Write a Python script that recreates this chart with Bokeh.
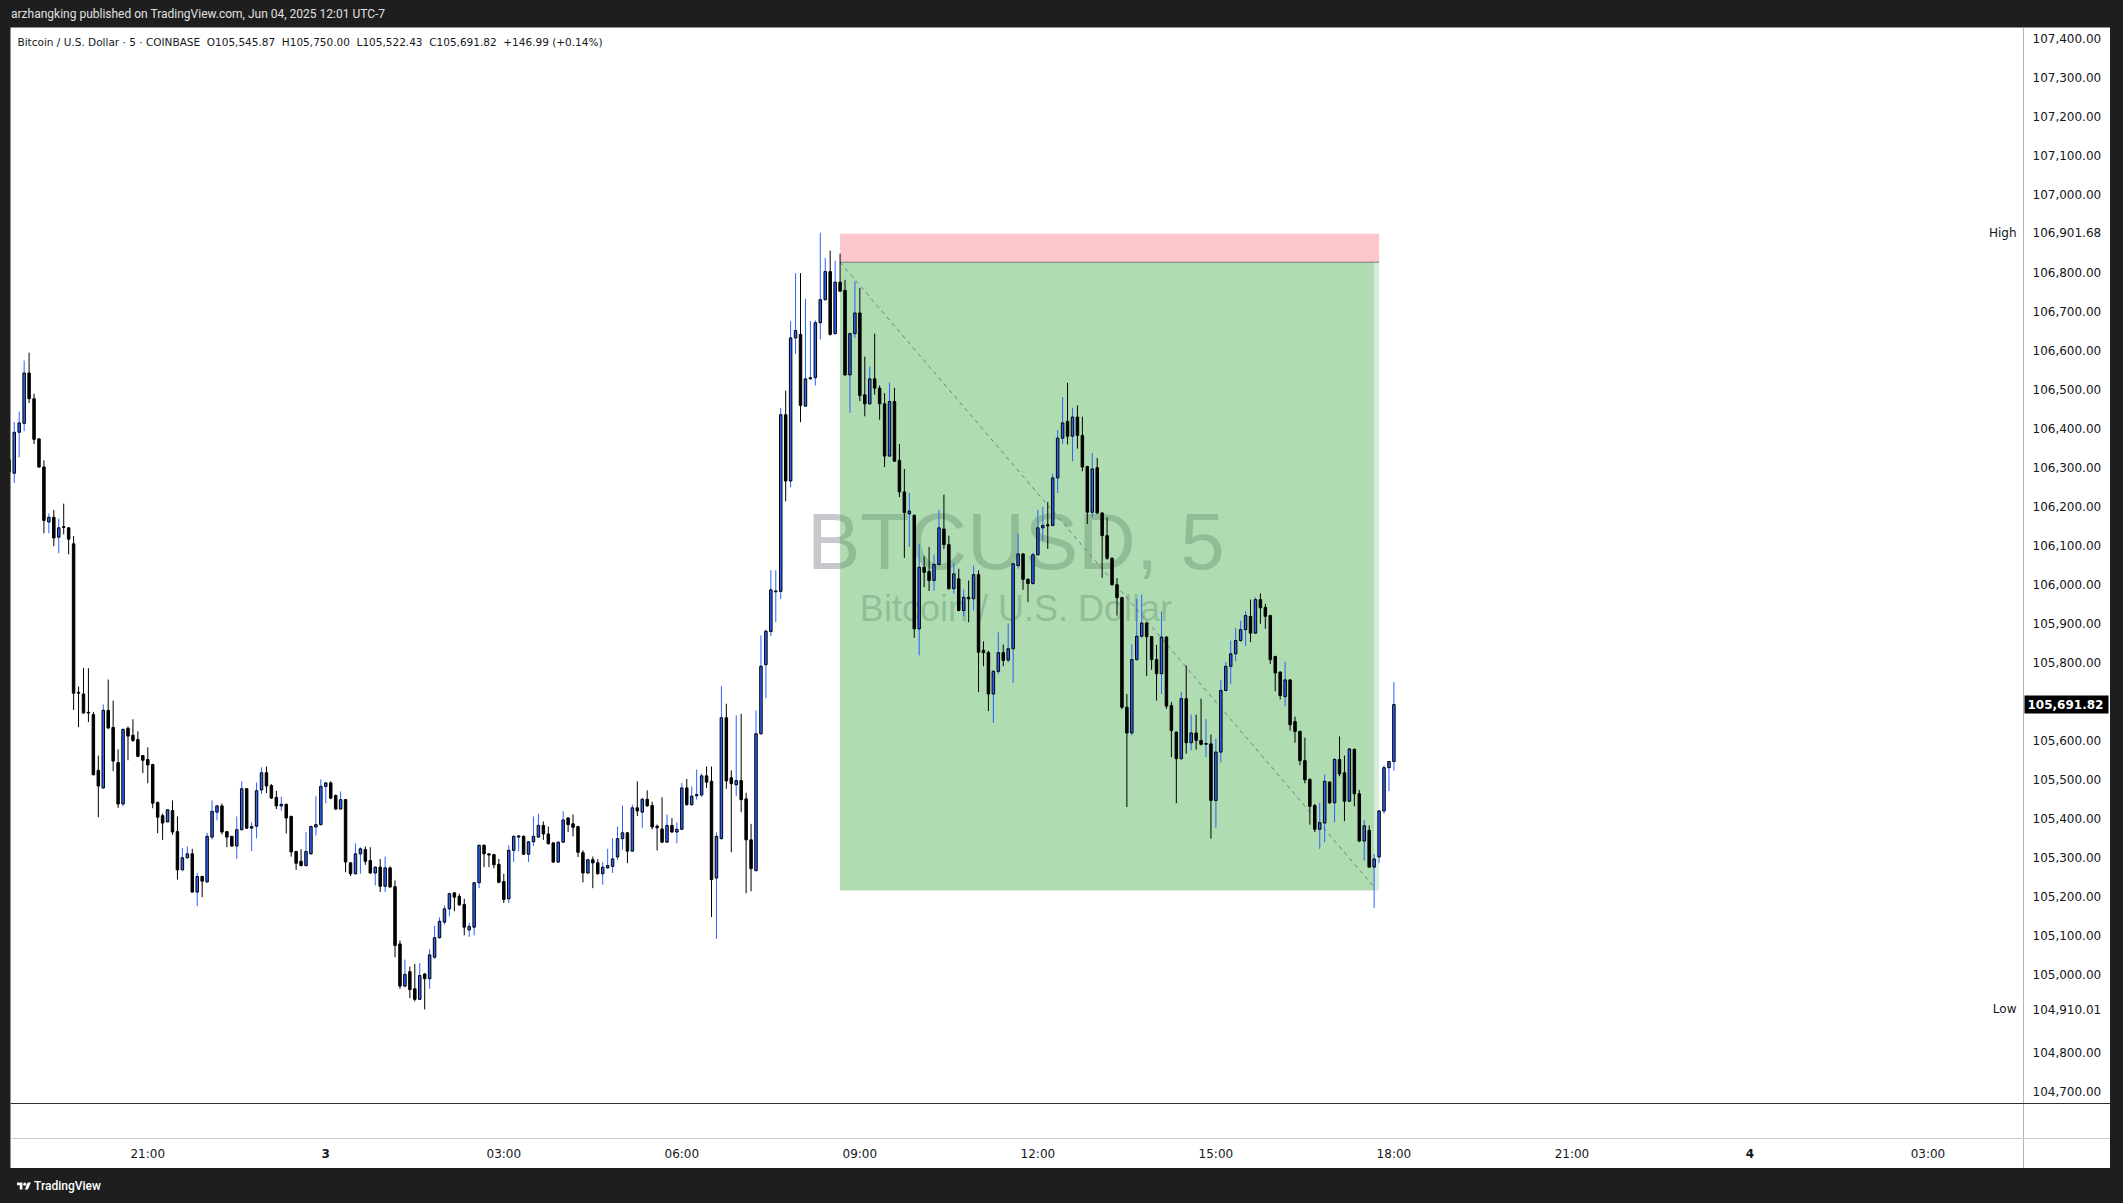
from bokeh.plotting import figure
from bokeh.models import ColumnDataSource, Range1d, FixedTicker, NumeralTickFormatter, Label, Div, Spacer, Span
from bokeh.layouts import column, row
from bokeh.embed import file_html
from bokeh.resources import INLINE
from bokeh.core.properties import value

# ---------------- data (BTCUSD, 5 min, COINBASE) ----------------
# first candle: 2025-06-02 18:40 ; x unit = hours relative to 2025-06-03 00:00
FIRST_CANDLE_HOUR = -16.0 / 3.0
BAR_HOURS = 5.0 / 60.0

opens = [106320,
 106285,106390,106413,106542,106476,106373,106301,106160,106172,106121,106148,106145,
 106104,105723,105719,105672,105666,105523,105478,105677,105633,105543,105437,105631,
 105613,105602,105561,105551,105538,105441,105407,105391,105420,105366,105268,105299,
 105309,105211,105251,105237,105352,105416,105432,105366,105354,105329,105371,105476,
 105375,105380,105473,105517,105484,105454,105432,105436,105405,105315,105290,105279,
 105309,105378,105384,105482,105491,105459,105424,105448,105286,105258,105309,105320,
 105292,105260,105275,105226,105273,105225,105078,104970,105007,104963,104936,105001,
 104989,105044,105094,105134,105168,105209,105200,105179,105114,105121,105235,105331,
 105309,105307,105282,105238,105194,105318,105352,105354,105308,105340,105352,105382,
 105360,105337,105288,105339,105401,105386,105379,105312,105260,105294,105286,105258,
 105273,105277,105301,105348,105363,105316,105427,105416,105449,105433,105380,105373,
 105339,105382,105365,105372,105478,105435,105458,105460,105509,105495,105247,105348,
 105658,105504,105486,105497,105450,105345,105266,105617,105794,105879,105981,105982,
 106435,106265,106632,106641,106457,106527,106530,106671,106730,106802,106643,106775,
 106754,106537,106643,106696,106486,106463,106527,106503,106463,106329,106469,106318,
 106237,106181,106177,105886,106044,106033,106010,106051,106142,106102,105989,106014,
 105933,105967,105963,106025,105831,105825,105719,105777,105825,105806,105835,106048,
 106078,106013,106002,106076,106145,106153,106151,106273,106375,106418,106380,106429,
 106382,106302,106185,106299,106183,106125,106067,105999,105966,105685,105619,105807,
 105867,105901,105866,105807,105771,105865,105689,105621,105553,105707,105594,105619,
 105600,105590,105591,105446,105570,105728,105790,105822,105856,105884,105918,105875,
 105961,105941,105920,105815,105775,105712,105755,105648,105623,105548,105500,105433,
 105372,105388,105493,105440,105551,105517,105444,105577,105463,105342,105369,105275,
 105301,105419,105530,105545.87]

highs = [106340,
 106416,106443,106574,106594,106489,106375,106318,106182,106191,106169,106207,106146,
 106124,105738,105786,105785,105673,105561,105692,105756,105702,105577,105631,105636,
 105654,105623,105562,105582,105540,105443,105412,105423,105446,105405,105324,105328,
 105322,105260,105253,105363,105446,105434,105438,105368,105355,105405,105495,105478,
 105390,105492,105531,105533,105488,105471,105456,105438,105407,105317,105321,105365,
 105381,105457,105500,105493,105495,105461,105469,105450,105288,105336,105326,105328,
 105326,105277,105296,105302,105277,105241,105087,105038,105020,105027,105029,105003,
 105064,105125,105146,105177,105209,105211,105207,105194,105132,105237,105333,105333,
 105310,105309,105296,105258,105331,105356,105357,105356,105342,105405,105412,105392,
 105379,105339,105341,105418,105403,105410,105381,105318,105296,105302,105296,105288,
 105322,105349,105379,105433,105365,105435,105495,105453,105472,105443,105384,105454,
 105410,105401,105390,105491,105501,105482,105525,105515,105533,105533,105364,105739,
 105694,105523,105664,105668,105466,105386,105677,105869,105884,106036,106036,106452,
 106497,106675,106798,106798,106732,106675,106677,106901.68,106837,106856,106830,106848,
 106781,106645,106777,106760,106584,106559,106643,106510,106490,106517,106504,106360,
 106296,106235,106179,106104,106072,106096,106076,106191,106230,106125,106055,106040,
 105987,106010,106048,106036,105854,105830,105780,105877,105846,105899,106055,106130,
 106080,106015,106081,106191,106198,106211,106284,106396,106480,106517,106453,106459,
 106430,106304,106337,106324,106185,106172,106069,106016,105968,105719,105846,105963,
 105974,105903,105868,105845,105931,105867,105698,105623,105724,105792,105666,105666,
 105707,105655,105615,105604,105755,105801,105856,105888,105907,105931,105961,105967,
 105977,105950,105922,105817,105777,105801,105757,105661,105625,105607,105502,105437,
 105440,105512,105495,105555,105610,105561,105580,105579,105473,105395,105382,105309,
 105421,105536,105546,105750.00]

lows = [106270,
 106260,106326,106393,106465,106360,106299,106131,106131,106098,106080,106128,106077,
 105678,105634,105669,105647,105510,105403,105476,105629,105521,105427,105431,105549,
 105596,105557,105516,105490,105426,105362,105345,105390,105358,105243,105266,105297,
 105210,105175,105198,105235,105346,105395,105359,105326,105327,105296,105369,105373,
 105316,105349,105462,105465,105450,105424,105420,105361,105302,105268,105277,105277,
 105307,105356,105382,105439,105449,105422,105422,105262,105252,105256,105258,105281,
 105258,105228,105211,105211,105222,105044,104963,104967,104939,104931,104934,104910.01,
 104963,105040,105092,105128,105149,105162,105176,105100,105096,105100,105221,105275,
 105275,105272,105234,105183,105183,105288,105316,105306,105288,105329,105350,105345,
 105333,105286,105286,105337,105365,105354,105301,105236,105258,105221,105256,105230,
 105271,105260,105294,105320,105285,105314,105406,105376,105430,105372,105318,105337,
 105337,105363,105336,105370,105433,105433,105448,105455,105478,105147,105091,105346,
 105476,105313,105457,105416,105208,105213,105264,105615,105708,105867,105903,105963,
 106213,106249,106591,106416,106455,106525,106510,106628,106728,106638,106641,106750,
 106535,106440,106632,106470,106431,106461,106486,106422,106301,106327,106314,106224,
 106068,106096,105863,105818,105993,105983,105984,106049,106091,105987,105976,105931,
 105919,105903,105933,105724,105790,105675,105645,105770,105790,105800,105747,106040,
 105986,105955,106000,106074,106111,106091,106149,106234,106360,106359,106316,106348,
 106290,106155,106172,106181,106017,106063,105997,105920,105680,105429,105613,105805,
 105863,105765,105781,105702,105719,105681,105557,105439,105551,105566,105574,105576,
 105587,105557,105348,105376,105544,105726,105745,105803,105852,105842,105852,105873,
 105899,105886,105796,105726,105705,105688,105625,105594,105536,105490,105384,105365,
 105322,105339,105437,105390,105508,105393,105442,105431,105339,105292,105273,105170,
 105285,105412,105470,105522.43]

closes = [106288,
 106390,106414,106542,106476,106372,106301,106164,106172,106119,106145,106146,106116,
 105721,105721,105670,105670,105512,105483,105677,105632,105547,105437,105628,105611,
 105600,105559,105549,105537,105439,105403,105388,105422,105365,105268,105299,105309,
 105211,105251,105239,105354,105418,105432,105365,105352,105329,105371,105476,105375,
 105379,105471,105517,105483,105452,105432,105436,105401,105314,105285,105279,105315,
 105379,105384,105482,105491,105452,105424,105448,105288,105258,105309,105322,105290,
 105260,105275,105226,105273,105224,105074,104970,105000,104961,104936,104997,104989,
 105050,105094,105136,105168,105207,105198,105178,105121,105123,105235,105331,105309,
 105306,105281,105236,105192,105318,105354,105355,105308,105340,105354,105382,105360,
 105335,105288,105339,105396,105384,105377,105313,105260,105294,105286,105258,105275,
 105279,105296,105348,105363,105316,105427,105419,105449,105432,105378,105376,105339,
 105382,105365,105372,105478,105435,105457,105461,105509,105493,105243,105354,105658,
 105496,105489,105497,105448,105345,105271,105617,105790,105880,105986,105983,106435,
 106265,106632,106651,106459,106527,106530,106671,106730,106802,106641,106775,106752,
 106537,106643,106696,106484,106463,106527,106503,106463,106329,106469,106316,106237,
 106184,106188,105886,106044,106031,106010,106051,106145,106102,105989,106027,105933,
 105967,105963,106025,105826,105825,105719,105777,105825,105805,105835,106053,106078,
 106013,106002,106076,106145,106151,106150,106273,106375,106414,106380,106429,106382,
 106301,106185,106296,106183,106125,106067,105999,105966,105685,105619,105807,105867,
 105901,105866,105807,105771,105865,105688,105625,105553,105707,105594,105619,105600,
 105590,105592,105446,105570,105728,105790,105822,105856,105884,105920,105875,105961,
 105940,105918,105807,105773,105715,105755,105640,105623,105548,105499,105431,105372,
 105389,105495,105440,105551,105514,105444,105578,105463,105342,105381,105275,105296,
 105419,105530,105545.87,105691.82]

time_ticks = [-3, 0, 3, 6, 9, 12, 15, 18, 21, 24, 27]
time_labels = ["21:00", "3", "03:00", "06:00", "09:00", "12:00", "15:00", "18:00", "21:00", "4", "03:00"]
bold_time_labels = ["3", "4"]
price_ticks = [104700, 104800, 104910.01, 105000, 105100, 105200, 105300, 105400, 105500,
               105600, 105800, 105900, 106000, 106100, 106200, 106300, 106400, 106500,
               106600, 106700, 106800, 106901.68, 107000, 107100, 107200, 107300, 107400]
last_price = 105691.82
high_price = 106901.68
low_price = 104910.01

# short position drawing (hours, prices)
pos_start, pos_end_main, pos_end = 8 + 40 / 60, 17 + 40 / 60, 17.75
entry_price, stop_price, target_price = 106826, 106899, 105215
path_end_price = 105224

legend_text = ("Bitcoin / U.S. Dollar \u00b7 5 \u00b7 COINBASE\u00a0\u00a0O105,545.87\u00a0\u00a0H105,750.00"
               "\u00a0\u00a0L105,522.43\u00a0\u00a0C105,691.82\u00a0\u00a0+146.99 (+0.14%)")

# ---------------- geometry of the white chart area ----------------
PX_PER_H = 59.34          # pixels per hour on the time scale
PX_PER_USD = 0.39         # pixels per dollar on the price scale
FRAME_W, FRAME_H = 2100, 1141
X0 = -5.3133
X1 = X0 + FRAME_W / PX_PER_H
Y1 = 107427.9
Y0 = Y1 - FRAME_H / PX_PER_USD

def hx(px):   # horizontal pixel offset inside chart area -> hours
    return X0 + px / PX_PER_H

def py(px):   # vertical pixel offset from top of chart area -> price
    return Y1 - px / PX_PER_USD

SCALE_X = hx(2013)          # price-scale separator
PANE_BOTTOM = py(1076)      # bottom of the candle pane
TIME_TOP = py(1111)         # top of the time scale row

p = figure(frame_width=FRAME_W, frame_height=FRAME_H, x_range=Range1d(X0, X1), y_range=Range1d(Y0, Y1),
           output_backend="svg", toolbar_location=None, y_axis_location="right",
           min_border=0, min_border_left=0, min_border_right=0, min_border_top=0, min_border_bottom=0)
p.outline_line_color = None
p.xgrid.visible = False
p.ygrid.visible = False
p.background_fill_color = "#ffffff"
p.border_fill_color = "#1e1e1e"

# watermark
p.text(x=[11.63], y=[106110], text=["BTCUSD, 5"], text_font=value("Liberation Sans"),
       text_font_size=value("80px"), text_align="center", text_baseline="middle",
       text_color="#787b86", text_alpha=0.42)
p.text(x=[11.63], y=[105938], text=["Bitcoin / U.S. Dollar"], text_font=value("Liberation Sans"),
       text_font_size=value("36px"), text_align="center", text_baseline="middle",
       text_color="#787b86", text_alpha=0.42)

# position box
p.quad(left=[pos_start], right=[pos_end], bottom=[entry_price], top=[stop_price],
       fill_color="#f23645", fill_alpha=0.28, line_color=None)
p.quad(left=[pos_start], right=[pos_end_main], bottom=[target_price], top=[entry_price],
       fill_color="#4caf50", fill_alpha=0.44, line_color=None)
p.quad(left=[pos_end_main], right=[pos_end], bottom=[target_price], top=[entry_price],
       fill_color="#4caf50", fill_alpha=0.22, line_color=None)
p.line(x=[pos_start, pos_end], y=[entry_price, entry_price], line_color="#787b86", line_width=1)
p.line(x=[pos_start, pos_end_main], y=[entry_price, path_end_price], line_color="#787b86",
       line_width=1, line_dash="4 4")

# candles
n = len(opens)
xs = [FIRST_CANDLE_HOUR + i * BAR_HOURS for i in range(n)]
up = [c >= o for o, c in zip(opens, closes)]
src = ColumnDataSource(dict(
    x=xs, o=opens, h=highs, l=lows, c=closes,
    top=[max(o, c) for o, c in zip(opens, closes)],
    bottom=[min(o, c) for o, c in zip(opens, closes)],
    col=["#2962ff" if u else "#000000" for u in up],
))
p.segment(x0="x", y0="l", x1="x", y1="h", line_color="col", line_width=1, source=src)
p.vbar(x="x", width=0.042, top="top", bottom="bottom", fill_color="col",
       line_color="#000000", line_width=1, source=src)

# separators of panes / scales
p.add_layout(Span(location=SCALE_X, dimension="height", line_color="#b2b5be", line_width=1))
p.add_layout(Span(location=TIME_TOP, dimension="width", line_color="#c9ccd4", line_width=1))
p.add_layout(Span(location=PANE_BOTTOM, dimension="width", line_color="#2a2e39", line_width=1))

# last price tag (box on the price scale)
p.quad(left=[hx(2014)], right=[hx(2098)], bottom=[last_price - 9 / PX_PER_USD],
       top=[last_price + 9 / PX_PER_USD], fill_color="#000000", line_color=None)

# axes: labels drawn inward onto the white scale areas
ya = p.yaxis[0]
ya.ticker = FixedTicker(ticks=price_ticks)
ya.formatter = NumeralTickFormatter(format="0,0.00")
ya.major_tick_line_color = None
ya.minor_tick_line_color = None
ya.major_tick_out = 0
ya.major_tick_in = 0
ya.axis_line_color = None
ya.major_label_text_font = "DejaVu Sans"
ya.major_label_text_font_size = "12px"
ya.major_label_text_color = "#131722"
ya.major_label_standoff = -78

xa = p.xaxis[0]
xa.ticker = FixedTicker(ticks=time_ticks)
xa.major_label_overrides = {t: ("" if lab in bold_time_labels else lab) for t, lab in zip(time_ticks, time_labels)}
xa.major_tick_line_color = None
xa.minor_tick_line_color = None
xa.major_tick_out = 0
xa.major_tick_in = 0
xa.axis_line_color = None
xa.major_label_text_font = "DejaVu Sans"
xa.major_label_text_font_size = "12px"
xa.major_label_text_color = "#131722"
xa.major_label_standoff = -22

# bold day labels on the time scale
for t, lab in zip(time_ticks, time_labels):
    if lab in bold_time_labels:
        p.add_layout(Label(x=t, y=py(1126), text=lab, text_align="center", text_baseline="middle",
                           text_font="DejaVu Sans", text_font_size="12px", text_font_style="bold",
                           text_color="#131722"))

# legend line
p.add_layout(Label(x=hx(7), y=py(14), text=legend_text, text_align="left", text_baseline="middle",
                   text_font="DejaVu Sans", text_font_size="10.5px", text_color="#131722"))

# High / Low marks
p.add_layout(Label(x=hx(2006), y=high_price, text="High", text_align="right", text_baseline="middle",
                   text_font="DejaVu Sans", text_font_size="12px", text_color="#131722"))
p.add_layout(Label(x=hx(2006), y=low_price, text="Low", text_align="right", text_baseline="middle",
                   text_font="DejaVu Sans", text_font_size="12px", text_color="#131722"))

# last price text
p.add_layout(Label(x=hx(2017), y=last_price, text="{:,.2f}".format(last_price), text_align="left",
                   text_baseline="middle", text_font="DejaVu Sans", text_font_size="12px",
                   text_font_style="bold", text_color="#ffffff"))

header = Div(text='<div style="color:#e0e0e0;font-family:Roboto,sans-serif;font-size:12px;'
                  'line-height:14px;padding-top:7px;padding-left:11px;white-space:nowrap;">'
                  'arzhangking published on TradingView.com, Jun 04, 2025 12:01 UTC-7</div>',
             width=2110, height=27, margin=(0, 0, 0, 0))
logo_svg = ('<svg width="14" height="11" viewBox="0 0 36 28" style="display:block">'
            '<path d="M14 22H7V11H0V4h14v18z" fill="#ffffff"/>'
            '<circle cx="20" cy="8" r="4" fill="#ffffff"/>'
            '<path d="M28 22h-8l7.5-18h8L28 22z" fill="#ffffff"/></svg>')
footer = Div(text='<div style="display:flex;align-items:center;gap:3px;color:#ffffff;'
                  'font-family:Roboto,sans-serif;font-size:12px;font-weight:500;line-height:14px;'
                  'padding-top:11px;padding-left:17px;white-space:nowrap;">'
                  + logo_svg + '<span>TradingView</span></div>',
             width=2110, height=35, margin=(0, 0, 0, 0))

layout = column(header, row(Spacer(width=10, height=FRAME_H, margin=(0, 0, 0, 0)), p, margin=(0, 0, 0, 0)),
                footer, margin=(0, 0, 0, 0))

html = file_html(layout, INLINE, title="BTCUSD 5")
html = html.replace("</head>", "<style>html,body{margin:0;padding:0;background:#1e1e1e;overflow:hidden;}</style></head>", 1)
open("out.html", "w").write(html)
